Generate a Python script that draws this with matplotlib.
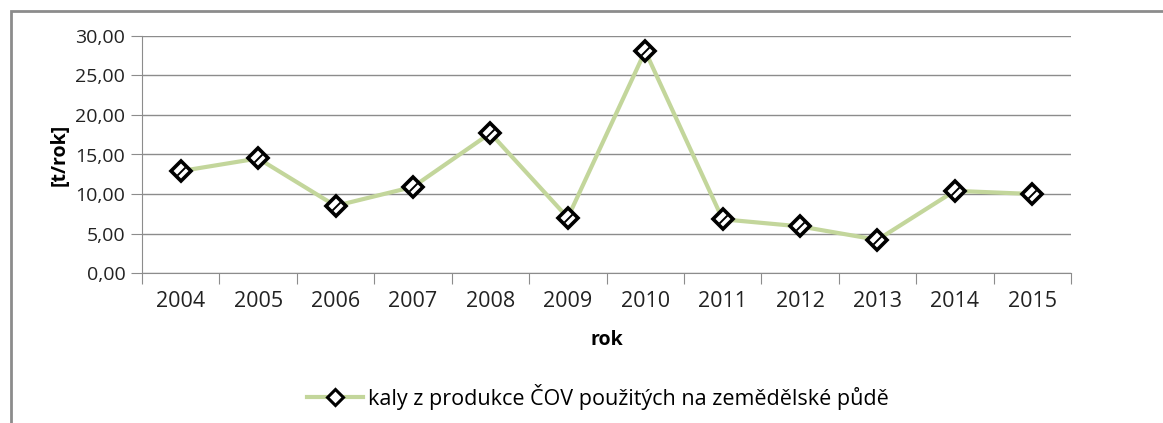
import numpy as np
import matplotlib
matplotlib.use("Agg")
import matplotlib.pyplot as plt
from matplotlib.ticker import FuncFormatter, FixedLocator
from matplotlib.patches import Rectangle
from matplotlib.lines import Line2D

plt.rcParams['font.family'] = ['Open Sans', 'DejaVu Sans']

years = ['2004', '2005', '2006', '2007', '2008', '2009',
         '2010', '2011', '2012', '2013', '2014', '2015']
kaly = [12.9, 14.5, 8.5, 10.9, 17.7, 7.0, 28.1, 6.8, 5.9, 4.2, 10.4, 10.0]
series_label = 'kaly z produkce ČOV použitých na zemědělské půdě'

W, H = 1163, 423
fs = 14
fs_big = 15.5
fig = plt.figure(figsize=(W / 100, H / 100), dpi=100)
ax = fig.add_axes([142 / W, 1 - 273 / H, (1071 - 142) / W, (273 - 36) / H])

# outer chart border (cut off at right/bottom like the source)
fig.patches.append(Rectangle((11 / W, -0.05), 1.2, 1 - 11 / H + 0.05,
                             transform=fig.transFigure, fill=False,
                             edgecolor='#8c8c8c', lw=2))

x = np.arange(len(years))
ax.plot(x, kaly, color='#c3d69b', lw=3, zorder=2)
ax.plot(x, kaly, ls='none', marker='D', markersize=10,
        markerfacecolor='white', markeredgecolor='black', markeredgewidth=2.6, zorder=3)
ax.plot(x, kaly, ls='none', marker=(2, 0, -45), markersize=8,
        markeredgecolor='black', markeredgewidth=1.4, zorder=4)

ax.set_xlim(-0.5, len(years) - 0.5)
ax.set_ylim(0, 30)
ax.set_yticks(np.arange(0, 31, 5))
ax.yaxis.set_major_formatter(FuncFormatter(lambda v, p: f"{v:.2f}".replace('.', ',')))
ax.grid(axis='y', color='#8c8c8c', lw=1)
ax.set_axisbelow(True)

ax.xaxis.set_major_locator(FixedLocator(np.arange(-0.5, len(years), 1)))
ax.xaxis.set_minor_locator(FixedLocator(x))
ax.set_xticklabels([])
ax.set_xticklabels(years, minor=True)
ax.tick_params(axis='x', which='major', length=8, color='#8c8c8c', direction='out')
ax.tick_params(axis='x', which='minor', length=0, pad=13, labelsize=fs_big, labelcolor='#222222')
ax.tick_params(axis='y', length=8, color='#8c8c8c', labelsize=fs, labelcolor='#222222', pad=4)

for s in ['top', 'right']:
    ax.spines[s].set_visible(False)
for s in ['left', 'bottom']:
    ax.spines[s].set_color('#8c8c8c')

ax.set_ylabel('[t/rok]', fontsize=fs, fontweight='bold', labelpad=4)
ax.set_xlabel('rok', fontsize=fs, fontweight='bold', labelpad=13)

handle = (Line2D([], [], color='#c3d69b', lw=3, marker='D', markersize=8,
                 markerfacecolor='white', markeredgecolor='black', markeredgewidth=2.2))
fig.legend([handle], [series_label], loc='center', bbox_to_anchor=(598 / W, 1 - 397 / H),
           frameon=False, fontsize=fs_big, handlelength=2.6, handletextpad=0.2)

fig.savefig('out.png', dpi=100)
